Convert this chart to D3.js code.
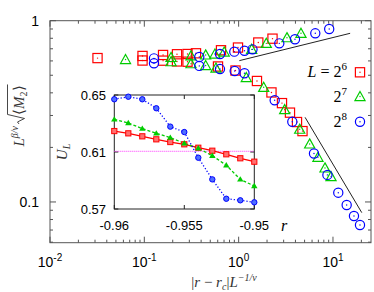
<!DOCTYPE html>
<html>
<head>
<meta charset="utf-8">
<script src="https://d3js.org/d3.v7.min.js"></script>
<style>
    body { margin: 0; background: #fff; }
    svg { display: block; }
</style>
</head>
<body>
<script>
// main plot: scaled order parameter, two branches per system size
var redUpX = [0.0319, 0.0957, 0.158, 0.222, 0.287, 0.353, 0.650, 0.984, 1.615, 2.285];
var redUpY = [0.622, 0.639, 0.647, 0.653, 0.655, 0.661, 0.687, 0.711, 0.758, 0.796];
var redLowX = [0.0957, 0.158, 0.222, 0.287, 0.604, 0.926, 1.564, 2.228, 2.88, 3.50, 4.155, 4.75];
var redLowY = [0.603, 0.602, 0.596, 0.594, 0.559, 0.531, 0.465, 0.402, 0.351, 0.311, 0.276, 0.246];

var greenUpX = [0.0632, 0.192, 0.3125, 0.447, 0.561, 0.703, 1.375, 1.963, 3.254, 4.58];
var greenUpY = [0.611, 0.627, 0.640, 0.647, 0.655, 0.672, 0.695, 0.750, 0.806, 0.852];
var greenLowX = [0.192, 0.3125, 0.447, 0.575, 1.205, 1.843, 3.076, 4.438, 5.66, 6.93, 8.23, 9.53];
var greenLowY = [0.594, 0.579, 0.566, 0.548, 0.486, 0.429, 0.323, 0.252, 0.209, 0.1765, 0.154, 0.138];

var blueUpX = [0.1266, 0.3826, 0.634, 0.899, 1.153, 1.402, 2.697, 3.956, 6.494, 9.12];
var blueUpY = [0.620, 0.631, 0.655, 0.675, 0.683, 0.695, 0.750, 0.790, 0.852, 0.900];
var blueLowX = [0.1266, 0.3826, 0.634, 0.908, 1.153, 2.41, 3.705, 6.29, 8.73, 11.38, 13.97, 16.70, 19.34];
var blueLowY = [0.582, 0.563, 0.541, 0.528, 0.513, 0.364, 0.277, 0.185, 0.141, 0.1125, 0.0962, 0.0837, 0.0746];

// slope guides
var guideUpX = [1.017, 15.2], guideUpY = [0.602, 0.852];
var guideLowX = [5.06, 20.2], guideLowY = [0.293, 0.0873];

var legendExp = ["6", "7", "8"];
var xTickExp = ["-2", "-1", "0", "1"];
var yTickLabels = ["0.1", "1"];

// inset: Binder cumulant vs r
var rValues = [-0.96, -0.959, -0.958, -0.957, -0.956, -0.955, -0.954, -0.953, -0.952, -0.951, -0.95];
var uRed = [0.6247, 0.6231, 0.6210, 0.6189, 0.6170, 0.6154, 0.6130, 0.6109, 0.6084, 0.6056, 0.6032];
var uGreen = [0.6329, 0.6304, 0.6264, 0.6231, 0.6201, 0.6161, 0.6126, 0.6074, 0.6007, 0.5908, 0.5861];
var uBlue = [0.6470, 0.6488, 0.6470, 0.6407, 0.6278, 0.6240, 0.6060, 0.5908, 0.5772, 0.5761, 0.5747];
var uCross = 0.6105;
var insetXTicks = [-0.96, -0.955, -0.95];
var insetYTicks = [0.57, 0.61, 0.65];

var width = 374, height = 292;
var red = "#ff0000", green = "#00cc00", blue = "#0000ff";
var frame = "#555";
var sans = "'Liberation Sans', Arial, sans-serif";
var serif = "'Liberation Serif', 'Times New Roman', serif";

var svg = d3.select("body").append("svg")
    .attr("width", width)
    .attr("height", height);

var x = d3.scaleLog().domain([0.01, 25.3]).range([50, 371]);
var y = d3.scaleLog().domain([0.0596, 1]).range([242.7, 20.7]);

// minor + major ticks, inward, mirrored
var xMajor = [0.01, 0.1, 1, 10];
var xMinor = [];
[0.01, 0.1, 1, 10].forEach(function(d) {
    for (var k = 2; k <= 9; k++) { if (d * k < 25.3) xMinor.push(d * k); }
});
var yMajor = [0.1, 1];
var yMinor = [0.06, 0.07, 0.08, 0.09];
for (var k = 2; k <= 9; k++) yMinor.push(k / 10);

var ticks = svg.append("g").attr("stroke", frame).attr("stroke-width", 1);
function xTick(v, len) {
    ticks.append("line").attr("x1", x(v)).attr("x2", x(v)).attr("y1", 242.7).attr("y2", 242.7 - len);
    ticks.append("line").attr("x1", x(v)).attr("x2", x(v)).attr("y1", 20.7).attr("y2", 20.7 + len);
}
function yTick(v, len) {
    ticks.append("line").attr("y1", y(v)).attr("y2", y(v)).attr("x1", 50).attr("x2", 50 + len);
    ticks.append("line").attr("y1", y(v)).attr("y2", y(v)).attr("x1", 371).attr("x2", 371 - len);
}
xMajor.forEach(function(v) { xTick(v, 6); });
xMinor.forEach(function(v) { xTick(v, 3); });
yMajor.forEach(function(v) { yTick(v, 6); });
yMinor.forEach(function(v) { yTick(v, 3); });

svg.append("rect")
    .attr("x", 50).attr("y", 20.7)
    .attr("width", 321).attr("height", 222)
    .attr("fill", "none").attr("stroke", frame).attr("stroke-width", 1);

// tick labels
xMajor.forEach(function(v, i) {
    var t = svg.append("text")
        .attr("x", x(v)).attr("y", 267)
        .attr("text-anchor", "middle")
        .style("font-family", sans).style("font-size", "14px")
        .text("10");
    t.append("tspan").attr("dy", -6).style("font-size", "10px").text(xTickExp[i]);
});
yMajor.forEach(function(v, i) {
    svg.append("text")
        .attr("x", 39).attr("y", y(v) + 5)
        .attr("text-anchor", "end")
        .style("font-family", sans).style("font-size", "14px")
        .text(yTickLabels[i]);
});

// slope guides
var lineGen = d3.line().x(function(d) { return x(d[0]); }).y(function(d) { return y(d[1]); });
svg.append("path").attr("d", lineGen(d3.zip(guideUpX, guideUpY)))
    .attr("stroke", "#222").attr("stroke-width", 1).attr("fill", "none");
svg.append("path").attr("d", lineGen(d3.zip(guideLowX, guideLowY)))
    .attr("stroke", "#222").attr("stroke-width", 1).attr("fill", "none");

// markers
function drawMarker(g, kind, cx, cy, color, s) {
    if (kind == "square") {
        g.append("rect").attr("x", cx - s).attr("y", cy - s).attr("width", 2 * s).attr("height", 2 * s)
            .attr("fill", "none").attr("stroke", color).attr("stroke-width", 1.2);
    } else if (kind == "triangle") {
        var h = s * 1.1;
        g.append("path")
            .attr("d", "M" + cx + "," + (cy - h) + "L" + (cx + s * 1.1) + "," + (cy + h * 0.8) + "L" + (cx - s * 1.1) + "," + (cy + h * 0.8) + "Z")
            .attr("fill", "none").attr("stroke", color).attr("stroke-width", 1.2);
    } else {
        g.append("circle").attr("cx", cx).attr("cy", cy).attr("r", s)
            .attr("fill", "none").attr("stroke", color).attr("stroke-width", 1.2);
    }
    g.append("circle").attr("cx", cx).attr("cy", cy).attr("r", 0.7).attr("fill", color);
}

var marks = svg.append("g");
var series = [
    {xs: redUpX, ys: redUpY, kind: "square", color: red},
    {xs: redLowX, ys: redLowY, kind: "square", color: red},
    {xs: greenUpX, ys: greenUpY, kind: "triangle", color: green},
    {xs: greenLowX, ys: greenLowY, kind: "triangle", color: green},
    {xs: blueUpX, ys: blueUpY, kind: "circle", color: blue},
    {xs: blueLowX, ys: blueLowY, kind: "circle", color: blue}
];
series.forEach(function(s) {
    s.xs.forEach(function(v, i) {
        drawMarker(marks, s.kind, x(v), y(s.ys[i]), s.color, 4.6);
    });
});

// legend
var legendY = [72.3, 96.5, 121.7];
var legendKind = ["square", "triangle", "circle"];
var legendColor = [red, green, blue];
legendExp.forEach(function(e, i) {
    var t = svg.append("text")
        .attr("x", 347).attr("y", legendY[i] + 5)
        .attr("text-anchor", "end")
        .style("font-family", serif).style("font-size", "16px");
    if (i == 0) {
        t.append("tspan").style("font-style", "italic").text("L");
        t.append("tspan").text(" = 2");
    } else {
        t.append("tspan").text("2");
    }
    t.append("tspan").attr("dy", -7).style("font-size", "11px").text(e);
    drawMarker(svg, legendKind[i], 360, legendY[i], legendColor[i], 4.6);
});

// axis labels
var xl = svg.append("text")
    .attr("x", 224).attr("y", 287)
    .attr("text-anchor", "middle")
    .style("font-family", serif).style("font-size", "15px").attr("fill", "#333");
xl.append("tspan").text("|");
xl.append("tspan").style("font-style", "italic").text("r");
xl.append("tspan").text(" \u2212 ");
xl.append("tspan").style("font-style", "italic").text("r");
xl.append("tspan").attr("dy", 3).style("font-size", "10px").style("font-style", "italic").text("c");
xl.append("tspan").attr("dy", -3).text("|");
xl.append("tspan").style("font-style", "italic").text("L");
xl.append("tspan").attr("dy", -6).style("font-size", "10px").style("font-style", "italic").text("\u22121/\u03bd");

var yl = svg.append("g").attr("transform", "translate(24,116) rotate(-90)");
var ylIn = yl.append("g").attr("fill", "#333");
var t1 = ylIn.append("text").attr("x", 0).attr("y", 0)
    .style("font-family", serif).style("font-size", "15px");
t1.append("tspan").style("font-style", "italic").text("L");
t1.append("tspan").attr("dy", -6).style("font-size", "10px").style("font-style", "italic").text("\u03b2/\u03bd");
var w1 = t1.node().getComputedTextLength();
var t2 = ylIn.append("text").attr("x", w1 + 11).attr("y", 0)
    .style("font-family", serif).style("font-size", "15px");
t2.append("tspan").text("\u27e8");
t2.append("tspan").style("font-style", "italic").text("M");
t2.append("tspan").attr("dy", 3).style("font-size", "10px").text("2");
t2.append("tspan").attr("dy", -3).text("\u27e9");
var w2 = t2.node().getComputedTextLength();
var sx = w1 + 2;
ylIn.append("path")
    .attr("d", "M" + sx + ",-5 l2,-1.5 l3.5,7 l4,-17 H" + (w1 + 11 + w2 + 1))
    .attr("fill", "none").attr("stroke", "#333").attr("stroke-width", 0.9);
var total = w1 + 11 + w2;
ylIn.attr("transform", "translate(" + (-total / 2) + ",0)");

// inset
var ix = d3.scaleLinear().domain([-0.96, -0.95]).range([114.3, 254.3]);
var iy = d3.scaleLinear().domain([0.57, 0.65]).range([209, 95]);
var inset = svg.append("g");
inset.append("rect").attr("x", 114.3).attr("y", 95).attr("width", 140).attr("height", 114)
    .attr("fill", "#fff").attr("stroke", "#222").attr("stroke-width", 1);

insetXTicks.forEach(function(v) {
    inset.append("line").attr("x1", ix(v)).attr("x2", ix(v)).attr("y1", 209).attr("y2", 205).attr("stroke", "#222");
    inset.append("line").attr("x1", ix(v)).attr("x2", ix(v)).attr("y1", 95).attr("y2", 99).attr("stroke", "#222");
    inset.append("text").attr("x", ix(v)).attr("y", 230)
        .attr("text-anchor", "middle")
        .style("font-family", sans).style("font-size", "13px")
        .text(d3.format(".3~f")(v).replace("\u2212", "-"));
});
insetYTicks.forEach(function(v) {
    inset.append("line").attr("x1", 114.3).attr("x2", 118.3).attr("y1", iy(v)).attr("y2", iy(v)).attr("stroke", "#222");
    inset.append("line").attr("x1", 254.3).attr("x2", 250.3).attr("y1", iy(v)).attr("y2", iy(v)).attr("stroke", "#222");
    inset.append("text").attr("x", 106).attr("y", iy(v) + 5)
        .attr("text-anchor", "end")
        .style("font-family", sans).style("font-size", "13px")
        .text(d3.format(".2f")(v));
});

inset.append("line")
    .attr("x1", ix(-0.96)).attr("x2", ix(-0.95)).attr("y1", iy(uCross)).attr("y2", iy(uCross))
    .attr("stroke", "#ff33ff").attr("stroke-width", 1).attr("stroke-dasharray", "1,1");

var iline = d3.line().x(function(d) { return ix(d[0]); }).y(function(d) { return iy(d[1]); });
inset.append("path").attr("d", iline(d3.zip(rValues, uRed)))
    .attr("fill", "none").attr("stroke", red).attr("stroke-width", 1.3);
inset.append("path").attr("d", iline(d3.zip(rValues, uGreen)))
    .attr("fill", "none").attr("stroke", green).attr("stroke-width", 1.3).attr("stroke-dasharray", "3,2");
inset.append("path").attr("d", iline(d3.zip(rValues, uBlue)))
    .attr("fill", "none").attr("stroke", blue).attr("stroke-width", 1.3).attr("stroke-dasharray", "1.2,2");

rValues.forEach(function(r, i) {
    inset.append("rect").attr("x", ix(r) - 2.6).attr("y", iy(uRed[i]) - 2.6).attr("width", 5.2).attr("height", 5.2)
        .attr("fill", "#ff7070").attr("stroke", red).attr("stroke-width", 1);
    var gx = ix(r), gy = iy(uGreen[i]);
    inset.append("path").attr("d", "M" + gx + "," + (gy - 3.2) + "L" + (gx + 3.2) + "," + (gy + 2.2) + "L" + (gx - 3.2) + "," + (gy + 2.2) + "Z")
        .attr("fill", green);
    inset.append("circle").attr("cx", ix(r)).attr("cy", iy(uBlue[i])).attr("r", 2.7)
        .attr("fill", "#5070ff").attr("stroke", blue).attr("stroke-width", 1);
});

svg.append("text")
    .attr("x", 62).attr("y", 152)
    .attr("transform", "rotate(-90,62,152)")
    .attr("text-anchor", "middle")
    .style("font-family", serif).style("font-size", "15px").attr("fill", "#333")
    .call(function(t) {
        t.append("tspan").style("font-style", "italic").attr("dy", 5).text("U");
        t.append("tspan").style("font-style", "italic").attr("dy", 3).style("font-size", "10px").text("L");
    });
svg.append("text")
    .attr("x", 284).attr("y", 231)
    .attr("text-anchor", "middle")
    .style("font-family", serif).style("font-size", "16px").style("font-style", "italic")
    .text("r");
</script>
</body>
</html>
